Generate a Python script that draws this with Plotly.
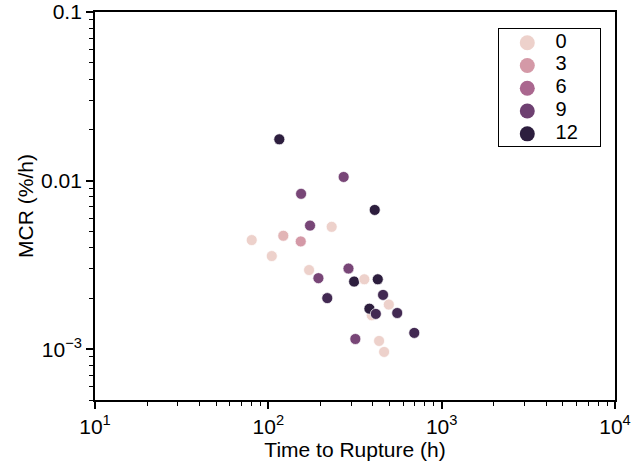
import numpy as np
import plotly.graph_objects as go

# Creep test results: time to rupture vs. minimum creep rate, coloured by level
time_to_rupture = [115.7, 272, 154.5, 411, 174, 232, 80.2, 122, 153.8, 104.7,
                   171.8, 194.5, 290, 312.6, 358, 428, 218.8, 459, 495.5, 395,
                   383, 417, 554, 695, 317.7, 435.5, 465.6]
mcr = [0.01758, 0.01051, 0.00835, 0.0067, 0.00541, 0.00532, 0.00444, 0.00471,
       0.00436, 0.00357, 0.00295, 0.00264, 0.00301, 0.00252, 0.0026, 0.0026,
       0.00201, 0.0021, 0.00184, 0.00159, 0.00174, 0.00162, 0.00164, 0.00125,
       0.00115, 0.00112, 0.000964]
level = [12, 8.5, 8.5, 12, 8.5, 0, 0, 1.5, 3, 0,
         0, 8.5, 8.5, 12, 0, 12, 11, 11, 0, 0,
         12, 11, 11, 11, 8.5, 0, 0]

legend_levels = [0, 3, 6, 9, 12]

x_tick_vals = [10, 100, 1000, 10000]
x_tick_text = ["10<sup>1</sup>", "10<sup>2</sup>", "10<sup>3</sup>", "10<sup>4</sup>"]
y_tick_vals = [0.001, 0.01, 0.1]
y_tick_text = ["10<sup>\u22123</sup>", "0.01", "0.1"]


def cubehelix(v, vmin=0.0, vmax=12.0, start=0.0, rot=0.4, gamma=1.0,
              hue=0.8, light=0.85, dark=0.15):
    """Sequential cubehelix colour (light -> dark) for a value in [vmin, vmax]."""
    t = (v - vmin) / (vmax - vmin)
    x = light + (dark - light) * t
    xg = x ** gamma
    a = hue * xg * (1 - xg) / 2
    phi = 2 * np.pi * (start / 3 + rot * x)
    r = xg + a * (-0.14861 * np.cos(phi) + 1.78277 * np.sin(phi))
    g = xg + a * (-0.29227 * np.cos(phi) - 0.90649 * np.sin(phi))
    b = xg + a * (1.97294 * np.cos(phi))
    rgb = [int(round(255 * min(max(c, 0), 1))) for c in (r, g, b)]
    return "rgb({},{},{})".format(*rgb)


font = "Liberation Sans, Arial, sans-serif"

fig = go.Figure()

# Main scatter
fig.add_trace(go.Scatter(
    x=time_to_rupture, y=mcr, mode="markers", showlegend=False,
    marker=dict(size=11, color=[cubehelix(v) for v in level],
                line=dict(color="white", width=0.7)),
))

# Level key, drawn in its own small boxed axes
key_rows = list(range(len(legend_levels)))
fig.add_trace(go.Scatter(
    x=[0.28] * len(legend_levels), y=key_rows, mode="markers",
    xaxis="x2", yaxis="y2", showlegend=False, hoverinfo="skip",
    marker=dict(size=15, color=[cubehelix(v) for v in legend_levels]),
))
fig.add_trace(go.Scatter(
    x=[0.56] * len(legend_levels), y=key_rows, mode="text",
    text=[str(v) for v in legend_levels], textposition="middle right",
    xaxis="x2", yaxis="y2", showlegend=False, hoverinfo="skip",
    textfont=dict(family=font, size=20, color="black"),
))

minor_vals_x = [m * 10 ** e for e in range(1, 4) for m in range(2, 10)]
minor_vals_y = [m * 10 ** e for e in range(-4, -1) for m in range(2, 10)
                if 0.0005 <= m * 10 ** e <= 0.1]

axis_common = dict(
    type="log", showgrid=False, zeroline=False, automargin=False,
    showline=True, linecolor="black", linewidth=1.8, mirror=True,
    ticks="outside", ticklen=7, tickwidth=1.5, tickcolor="black",
    tickfont=dict(family=font, size=21, color="black"),
    ticklabeloverflow="allow",
)

fig.update_layout(
    xaxis=dict(
        **axis_common,
        range=[1, 4], tickvals=x_tick_vals, ticktext=x_tick_text,
        minor=dict(tickvals=minor_vals_x, ticks="outside", ticklen=4,
                   tickwidth=1.2, tickcolor="black"),
        title=dict(text="Time to Rupture (h)", standoff=1,
                   font=dict(family=font, size=21, color="black")),
    ),
    yaxis=dict(
        **axis_common,
        range=[np.log10(0.0005), -1], tickvals=y_tick_vals, ticktext=y_tick_text,
        minor=dict(tickvals=minor_vals_y, ticks="outside", ticklen=4,
                   tickwidth=1.2, tickcolor="black"),
        title=dict(text="MCR (%/h)", standoff=2,
                   font=dict(family=font, size=21, color="black")),
    ),
    xaxis2=dict(domain=[0.777, 0.971], anchor="y2", range=[0, 1],
                showline=True, mirror=True, linecolor="black", linewidth=1.3,
                showgrid=False, zeroline=False, showticklabels=False,
                ticks="", fixedrange=True),
    yaxis2=dict(domain=[0.655, 0.957], anchor="x2", range=[4.527, -0.615],
                showline=True, mirror=True, linecolor="black", linewidth=1.3,
                showgrid=False, zeroline=False, showticklabels=False,
                ticks="", fixedrange=True),
    width=633, height=461,
    margin=dict(l=95, r=18, t=12, b=61),
    plot_bgcolor="white", paper_bgcolor="white",
    showlegend=False,
)

fig.write_html("out.html")
